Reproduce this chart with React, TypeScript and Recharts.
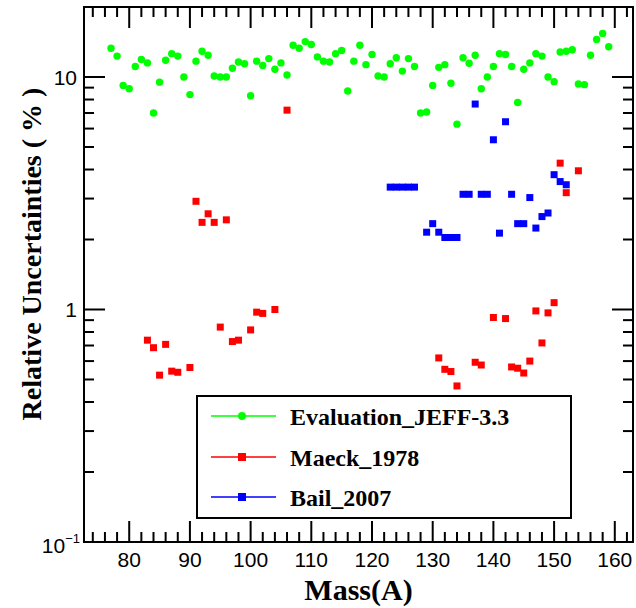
import React from "react";
import { ScatterChart, Scatter, XAxis, YAxis, ReferenceArea } from "recharts";

// JEFF-3.3 evaluation
const jeffMass = [
  77, 78, 79, 80, 81, 82, 83, 84, 85, 86, 87, 88, 89, 90, 91, 92, 93, 94, 95, 96,
  97, 98, 99, 100, 101, 102, 103, 104, 105, 106, 107, 108, 109, 110, 111, 112, 113,
  114, 115, 116, 117, 118, 119, 120, 121, 122, 123, 124, 125, 126, 127, 128, 129,
  130, 131, 132, 133, 134, 135, 136, 137, 138, 139, 140, 141, 142, 143, 144, 145,
  146, 147, 148, 149, 150, 151, 152, 153, 154, 155, 156, 157, 158, 159,
];
const jeffUnc = [
  13.3, 12.3, 9.2, 8.9, 11.1, 11.9, 11.5, 7.0, 9.5, 11.8, 12.6, 12.3, 10.0, 8.4, 11.7,
  12.9, 12.4, 10.1, 10.0, 10.0, 10.9, 11.6, 11.4, 8.3, 11.7, 11.2, 12.0, 10.8, 11.5,
  10.2, 13.7, 13.3, 14.2, 13.8, 12.2, 11.7, 11.6, 12.6, 13.0, 8.7, 11.7, 13.7, 11.3,
  12.5, 10.1, 10.0, 11.4, 12.1, 10.6, 12.0, 11.1, 7.0, 7.07, 9.2, 11.0, 11.3, 9.4,
  6.27, 12.1, 11.45, 12.4, 8.9, 10.0, 11.1, 12.6, 12.5, 11.1, 7.77, 10.8, 11.5, 12.6,
  12.3, 10.0, 9.55, 12.8, 12.9, 13.1, 9.33, 9.27, 12.4, 14.5, 15.4, 13.5,
];

// Maeck 1978
const maeckMass = [
  83, 84, 85, 86, 87, 88, 90, 91, 92, 93, 94, 95, 96, 97, 98, 100, 101, 102, 104, 106,
  131, 132, 133, 134, 137, 138, 140, 142, 143, 144, 145, 146, 147, 148, 149, 150, 151,
  152, 154,
];
const maeckUnc = [
  0.738, 0.685, 0.522, 0.708, 0.543, 0.537, 0.563, 2.92, 2.37, 2.58, 2.37, 0.84, 2.43,
  0.728, 0.738, 0.817, 0.974, 0.962, 1.0, 7.2, 0.619, 0.553, 0.541, 0.469, 0.593,
  0.577, 0.924, 0.914, 0.566, 0.559, 0.533, 0.6, 0.986, 0.718, 0.967, 1.07, 4.26,
  3.18, 3.95,
];

// Bail 2007
const bailMass = [
  123, 124, 125, 126, 127, 129, 130, 131, 132, 133, 134, 135, 136, 137, 138, 139, 140,
  141, 142, 143, 144, 145, 146, 147, 148, 149, 150, 151, 152,
];
const bailUnc = [
  3.36, 3.36, 3.36, 3.36, 3.36, 2.15, 2.34, 2.15, 2.04, 2.04, 2.04, 3.13, 3.13, 7.65,
  3.13, 3.13, 5.37, 2.13, 6.42, 3.13, 2.34, 2.34, 3.03, 2.24, 2.51, 2.6, 3.8, 3.55,
  3.44,
];

const xTicks = [
  74, 76, 78, 80, 82, 84, 86, 88, 90, 92, 94, 96, 98, 100, 102, 104, 106, 108, 110,
  112, 114, 116, 118, 120, 122, 124, 126, 128, 130, 132, 134, 136, 138, 140, 142, 144,
  146, 148, 150, 152, 154, 156, 158, 160, 162,
];
const yTicks = [
  0.1, 0.2, 0.3, 0.4, 0.5, 0.6, 0.7, 0.8, 0.9, 1, 2, 3, 4, 5, 6, 7, 8, 9, 10,
];

const series = [
  { name: "Evaluation_JEFF-3.3", color: "#00ff00", shape: "circle", mass: jeffMass, unc: jeffUnc },
  { name: "Maeck_1978", color: "#ff0000", shape: "square", mass: maeckMass, unc: maeckUnc },
  { name: "Bail_2007", color: "#0000ff", shape: "square", mass: bailMass, unc: bailUnc },
];

const SANS = "Liberation Sans, Arial, Helvetica, sans-serif";
const SERIF = "Liberation Serif, Times New Roman, serif";
const X_DOMAIN: [number, number] = [72.55, 163];
const Y_DOMAIN: [number, number] = [0.1, 20];
const MARGIN = { top: 7, right: 3, bottom: 0, left: 0 };
const W = 636;
const H = 608;
const PLOT_TOP = MARGIN.top;
const PLOT_RIGHT = W - MARGIN.right;

const isMajorX = (v: number) => v % 10 === 0;
const isMajorY = (v: number) => {
  const l = Math.log10(v);
  return Math.abs(l - Math.round(l)) < 1e-9;
};

// bottom tick, mirrored at the top frame
function XTick({ x, y, payload }: any) {
  const len = isMajorX(payload.value) ? 21 : 10;
  return (
    <g>
      <line x1={x} x2={x} y1={y} y2={y - len} stroke="#000" strokeWidth={2} />
      <line x1={x} x2={x} y1={PLOT_TOP} y2={PLOT_TOP + len} stroke="#000" strokeWidth={2} />
      {len > 15 && (
        <text x={x} y={y + 25} textAnchor="middle" fontFamily={SANS} fontSize={21} fill="#000">
          {payload.value}
        </text>
      )}
    </g>
  );
}

// left tick, mirrored at the right frame
function YTick({ x, y, payload }: any) {
  const v = payload.value;
  const major = isMajorY(v);
  const len = major ? 21 : 10;
  let label = null;
  if (major && v < 0.5) {
    label = (
      <text x={x - 4} y={y + 11} textAnchor="end" fontFamily={SANS} fontSize={21} fill="#000">
        <tspan>10</tspan>
        <tspan fontSize={13} dy={-10}>−1</tspan>
      </text>
    );
  } else if (major) {
    label = (
      <text x={x - 7} y={y + 8} textAnchor="end" fontFamily={SANS} fontSize={21} fill="#000">
        {v}
      </text>
    );
  }
  return (
    <g>
      <line x1={x} x2={x + len} y1={y} y2={y} stroke="#000" strokeWidth={2} />
      <line x1={PLOT_RIGHT} x2={PLOT_RIGHT - len} y1={y} y2={y} stroke="#000" strokeWidth={2} />
      {label}
    </g>
  );
}

const makeShape = (color: string, kind: string) => (props: any) => {
  const { cx, cy } = props;
  if (cx == null || cy == null) return <g />;
  if (kind === "circle") return <circle cx={cx} cy={cy} r={3.7} fill={color} />;
  return <rect x={cx - 3.5} y={cy - 3.5} width={7} height={7} fill={color} />;
};

function LegendBox() {
  const rows = [416, 457, 497];
  return (
    <svg width={376} height={124} style={{ position: "absolute", left: 196, top: 395 }}>
      <rect x={1} y={1} width={374} height={122} fill="#fff" stroke="#000" strokeWidth={2} />
      {series.map((s, i) => {
        const cy = rows[i] - 395;
        return (
          <g key={s.name}>
            <line x1={15} x2={80} y1={cy} y2={cy} stroke={s.color} strokeWidth={1.5} />
            {s.shape === "circle" ? (
              <circle cx={46} cy={cy} r={4} fill={s.color} />
            ) : (
              <rect x={42} y={cy - 4} width={8} height={8} fill={s.color} />
            )}
            <text x={94} y={cy + 9} fontFamily={SERIF} fontWeight="bold" fontSize={24} fill="#000">
              {s.name}
            </text>
          </g>
        );
      })}
    </svg>
  );
}

export default function App() {
  return (
    <div style={{ position: "absolute", left: 0, top: 0, width: W, height: H, background: "#fff" }}>
      <ScatterChart width={W} height={H} margin={MARGIN}>
        <XAxis
          type="number"
          dataKey="x"
          domain={X_DOMAIN}
          allowDataOverflow
          ticks={xTicks}
          interval={0}
          height={66}
          tickLine={false}
          tickSize={0}
          tickMargin={0}
          tick={<XTick />}
          axisLine={{ stroke: "#000", strokeWidth: 2 }}
        />
        <YAxis
          type="number"
          dataKey="y"
          scale="log"
          domain={Y_DOMAIN}
          allowDataOverflow
          ticks={yTicks}
          interval={0}
          width={84}
          tickLine={false}
          tickSize={0}
          tickMargin={0}
          tick={<YTick />}
          axisLine={{ stroke: "#000", strokeWidth: 2 }}
        />
        <ReferenceArea
          x1={X_DOMAIN[0]}
          x2={X_DOMAIN[1]}
          y1={Y_DOMAIN[0]}
          y2={Y_DOMAIN[1]}
          fill="none"
          fillOpacity={0}
          stroke="#000"
          strokeWidth={2}
          ifOverflow="visible"
        />
        {series.map((s) => (
          <Scatter
            key={s.name}
            name={s.name}
            data={s.mass.map((m, i) => ({ x: m, y: s.unc[i] }))}
            fill={s.color}
            shape={makeShape(s.color, s.shape)}
            isAnimationActive={false}
          />
        ))}
        <text x={358.5} y={600} textAnchor="middle" fontFamily={SERIF} fontWeight="bold" fontSize={30} fill="#000">
          Mass(A)
        </text>
        <text
          transform="translate(41,254) rotate(-90)"
          textAnchor="middle"
          fontFamily={SERIF}
          fontWeight="bold"
          fontSize={28}
          fill="#000"
        >
          Relative Uncertainties ( % )
        </text>
      </ScatterChart>
      <LegendBox />
    </div>
  );
}
